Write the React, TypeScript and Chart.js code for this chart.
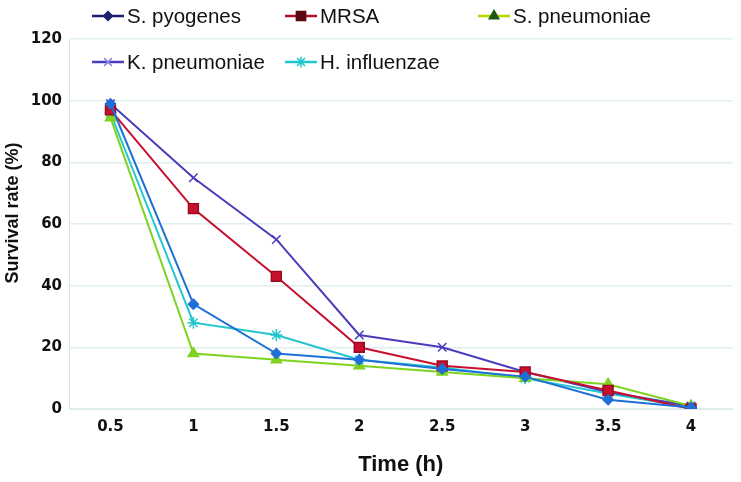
import React, { useEffect, useRef } from "react";
import { Chart, registerables } from "chart.js";
import { drawPoint } from "chart.js/helpers";

Chart.register(...registerables);

const timeLabels = ["0.5", "1", "1.5", "2", "2.5", "3", "3.5", "4"];
const sPyogenes = [99, 34, 18, 16, 13, 10.5, 3, 0.5];
const mrsa = [97, 65, 43, 20, 14, 12, 6, 0];
const sPneumoniae = [94.5, 18, 16, 14, 12, 10, 8, 1];
const kPneumoniae = [99, 75, 55, 24, 20, 12, 5.5, 1];
const hInfluenzae = [96, 28, 24, 16, 13.5, 10, 5, 0.5];
const yTicks = [0, 20, 40, 60, 80, 100, 120];

const seriesDefs = [
  { label: "S. pyogenes", data: sPyogenes, color: "#1f6fd6", legendColor: "#1a1f6e", markerColor: "#1a1f6e", style: "rectRot", radius: 5, legendCol: 0, legendRow: 0 },
  { label: "MRSA", data: mrsa, color: "#c8102e", legendColor: "#b0102a", markerColor: "#5a0a14", style: "rect", radius: 7, legendCol: 1, legendRow: 0 },
  { label: "S. pneumoniae", data: sPneumoniae, color: "#7ed321", legendColor: "#b8d800", markerColor: "#1d5a10", style: "triangle", radius: 6, legendCol: 2, legendRow: 0 },
  { label: "K. pneumoniae", data: kPneumoniae, color: "#4a3dbd", legendColor: "#4a3dbd", markerColor: "#8a8ae0", style: "crossRot", radius: 6, legendCol: 0, legendRow: 1 },
  { label: "H. influenzae", data: hInfluenzae, color: "#22c6cf", legendColor: "#22c6cf", markerColor: "#22c6cf", style: "star", radius: 6, legendCol: 1, legendRow: 1 },
];

const legendX = [92, 285, 478];
const legendY = [16, 62];

const legendPlugin = {
  id: "customLegend",
  afterDraw(chart: any) {
    const ctx = chart.ctx;
    ctx.save();
    ctx.font = "20.5px 'Liberation Sans', Arial, sans-serif";
    ctx.textBaseline = "middle";
    seriesDefs.forEach((s) => {
      const x = legendX[s.legendCol];
      const y = legendY[s.legendRow];
      ctx.strokeStyle = s.legendColor;
      ctx.lineWidth = 2.5;
      ctx.beginPath();
      ctx.moveTo(x, y);
      ctx.lineTo(x + 32, y);
      ctx.stroke();
      ctx.fillStyle = s.markerColor;
      ctx.strokeStyle = s.markerColor;
      ctx.lineWidth = 1.5;
      drawPoint(ctx, { pointStyle: s.style as any, radius: s.radius - 0.5, rotation: 0, borderWidth: 1.5 }, x + 16, y);
      ctx.fillStyle = "#111";
      ctx.fillText(s.label, x + 35, y + 1);
    });
    // y-axis title
    ctx.translate(13, 213);
    ctx.rotate(-Math.PI / 2);
    ctx.textAlign = "center";
    ctx.font = "bold 18px 'Liberation Sans', Arial, sans-serif";
    ctx.fillStyle = "#111";
    ctx.fillText("Survival rate (%)", 0, 0);
    ctx.restore();
  },
};

export default function App() {
  const ref = useRef<HTMLCanvasElement>(null);
  useEffect(() => {
    document.body.style.margin = "0";
    const chart = new Chart(ref.current!, {
      type: "line",
      data: {
        labels: timeLabels,
        datasets: seriesDefs.map((s) => ({
          label: s.label,
          data: s.data,
          borderColor: s.color,
          backgroundColor: s.color,
          pointStyle: s.style as any,
          pointRadius: s.radius,
          pointBorderWidth: 1.5,
          pointBorderColor: s.style === "rect" ? "#9a0a20" : s.color,
          borderWidth: 2,
          tension: 0,
        })),
      },
      options: {
        animation: false,
        responsive: false,
        layout: { padding: { top: 39, right: 3, left: 0, bottom: 0 } },
        plugins: { legend: { display: false }, tooltip: { enabled: false } },
        scales: {
          x: {
            offset: true,
            grid: { display: false, drawTicks: false },
            border: { color: "#dbe9ea", width: 1 },
            ticks: { color: "#111", font: { family: "'DejaVu Sans', sans-serif", size: 15, weight: "bold" }, padding: 9 },
            title: { display: true, text: "Time (h)", color: "#111", font: { family: "'Liberation Sans', Arial, sans-serif", size: 22, weight: "bold" }, padding: { top: 9 } },
            afterFit(axis: any) { axis.height = 73; },
          },
          y: {
            min: 0,
            max: 120,
            afterBuildTicks(axis: any) { axis.ticks = yTicks.map((v) => ({ value: v })); },
            grid: { color: "#e0eeee", drawTicks: false, lineWidth: 1.5 },
            border: { color: "#d8e4e4", width: 1 },
            ticks: { color: "#111", font: { family: "'DejaVu Sans', sans-serif", size: 15, weight: "bold" }, padding: 7 },
            afterFit(axis: any) { axis.width = 69; },
          },
        },
      },
      plugins: [legendPlugin],
    });
    return () => chart.destroy();
  }, []);
  return (
    <div style={{ width: 741, height: 482, background: "#fff" }}>
      <canvas ref={ref} width={741} height={482} />
    </div>
  );
}
